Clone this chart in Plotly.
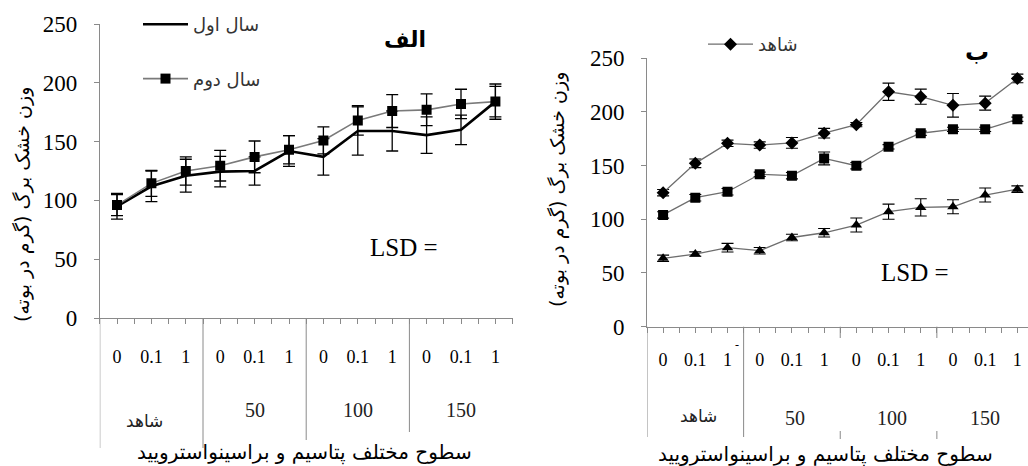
import plotly.graph_objects as go

W, H = 1028, 466

# ---------------- data ----------------
tick_text = ["0", "0.1", "1"] * 4
group_labels = ["شاهد", "50", "100", "150"]

# left panel (الف)
year1_name = "سال اول"
year2_name = "سال دوم"
year1 = [95, 112, 121, 124.5, 125, 142, 137, 159, 159, 155.5, 160, 184]
year1_err = [11, 13, 14, 13, 12, 13, 15.5, 20.5, 17, 15.5, 12.5, 15]
year2 = [96, 114.5, 125, 129.5, 137, 143, 151, 168, 176, 177, 182, 184]
year2_err = [9, 11, 12, 13, 13.5, 12, 11.5, 12.5, 14, 13.5, 12.5, 13]

# right panel (ب)
ctrl_name = "شاهد"
ctrl = [124.7, 152, 170.6, 169, 171, 180, 188, 218.6, 214, 206, 208, 231]
ctrl_err = [3, 4, 3, 3, 5, 4.5, 2, 8, 7, 11, 6.5, 4]
mid = [104, 120, 125.6, 141.8, 140.5, 156.6, 149.8, 167.4, 180, 183.6, 183.6, 193]
mid_err = [3, 3, 3, 2, 3, 6, 3, 2, 2, 2, 2, 2]
low = [63.6, 67.6, 73.5, 70.7, 83, 87.4, 94.6, 107, 111, 111.6, 122.5, 128]
low_err = [3, 2, 4, 3, 3, 4, 6.5, 7, 8, 6.5, 6.5, 3]

y_title = "وزن خشک برگ (گرم در بوته)"
x_title = "سطوح مختلف پتاسیم و براسینواسترویید"
xs = list(range(len(year1)))

# ---------------- helpers ----------------
def py(p):  # pixel y -> paper
    return 1 - p / H

def px(p):  # pixel x -> paper
    return p / W

SERIF = "Liberation Serif"
AR = "DejaVu Sans"
AXC = "#8a8a8a"

fig = go.Figure()

def err(vals, w=1.3, cap=6):
    return dict(type="data", array=vals, visible=True, color="black", thickness=w, width=cap)

# left traces
fig.add_trace(go.Scatter(x=xs, y=year1, name=year1_name, mode="lines",
                         line=dict(color="black", width=2.6), error_y=err(year1_err),
                         xaxis="x", yaxis="y", legend="legend", legendgroup="a"))
fig.add_trace(go.Scatter(x=xs, y=year2, name=year2_name, mode="lines+markers",
                         line=dict(color="#7a7a7a", width=1.6),
                         marker=dict(symbol="square", size=10, color="black"),
                         error_y=err(year2_err),
                         xaxis="x", yaxis="y", legend="legend", legendgroup="b"))

# right traces
fig.add_trace(go.Scatter(x=xs, y=ctrl, name=ctrl_name, mode="lines+markers",
                         line=dict(color="#6e6e6e", width=1.3),
                         marker=dict(symbol="diamond", size=10, color="black"),
                         error_y=err(ctrl_err, 1.1, 6),
                         xaxis="x2", yaxis="y2", legend="legend2"))
fig.add_trace(go.Scatter(x=xs, y=mid, name="50", mode="lines+markers", showlegend=False,
                         line=dict(color="#6e6e6e", width=1.3),
                         marker=dict(symbol="square", size=10, color="black"),
                         error_y=err(mid_err, 1.1, 6),
                         xaxis="x2", yaxis="y2"))
fig.add_trace(go.Scatter(x=xs, y=low, name="100", mode="lines+markers", showlegend=False,
                         line=dict(color="#6e6e6e", width=1.3),
                         marker=dict(symbol="triangle-up", size=10, color="black"),
                         error_y=err(low_err, 1.1, 6),
                         xaxis="x2", yaxis="y2"))

half_ticks = [i / 2 for i in range(-1, 24)]

def xaxis(domain, rng, standoff):
    return dict(domain=domain, range=rng, showgrid=False, zeroline=False, automargin=False,
                showline=True, linecolor=AXC, linewidth=1,
                tickmode="array", tickvals=xs, ticktext=tick_text,
                ticks="outside", ticklen=5, tickcolor=AXC,
                ticklabelstandoff=standoff,
                tickfont=dict(family=SERIF, size=18, color="black"),
                minor=dict(tickmode="array", tickvals=half_ticks, ticks="outside",
                           ticklen=5, tickcolor=AXC))

def yaxis(domain, anchor):
    return dict(domain=domain, range=[0, 250], anchor=anchor, showgrid=False, zeroline=False,
                automargin=False,
                showline=True, linecolor=AXC, linewidth=1,
                tickvals=[0, 50, 100, 150, 200, 250], ticks="outside", ticklen=5,
                tickcolor=AXC, ticklabelstandoff=12,
                tickfont=dict(family=SERIF, size=23, color="black"))

# left axes: y-axis at px 100, 0 at py 318, 250 at py 24
fig.update_layout(
    xaxis=dict(**xaxis([px(99.8), px(512.6)], [-0.5, 11.5], 17), anchor="y"),
    yaxis=yaxis([py(318), py(24)], "x"),
    xaxis2=dict(**xaxis([px(647), 1.0], [-0.5, 11.33], 12), anchor="y2"),
    yaxis2=yaxis([py(326.7), py(58)], "x2"),
)

shapes = []
# left: y-axis extension and group separators
for xv, bottom in [(-0.5, 448), (2.5, 448), (5.5, 440), (8.5, 432)]:
    shapes.append(dict(type="line", xref="x", yref="paper", x0=xv, x1=xv,
                       y0=py(318), y1=py(bottom), line=dict(color=AXC, width=1)))
# right: y-axis extension, first separator long, others short pieces
shapes.append(dict(type="line", xref="x2", yref="paper", x0=-0.5, x1=-0.5,
                   y0=py(326.7), y1=py(437), line=dict(color=AXC, width=1)))
shapes.append(dict(type="line", xref="x2", yref="paper", x0=2.5, x1=2.5,
                   y0=py(326.7), y1=py(437), line=dict(color=AXC, width=1)))
for xv in [5.5, 8.5]:
    shapes.append(dict(type="line", xref="x2", yref="paper", x0=xv, x1=xv,
                       y0=py(326.7), y1=py(338), line=dict(color=AXC, width=1)))
    shapes.append(dict(type="line", xref="x2", yref="paper", x0=xv, x1=xv,
                       y0=py(431), y1=py(439), line=dict(color=AXC, width=1)))
fig.update_layout(shapes=shapes)

ann = []

def add_text(text, x, y, font, xref="paper", textangle=0):
    ann.append(dict(text=text, x=x, y=y, xref=xref, yref="paper", showarrow=False,
                    xanchor="center", yanchor="middle", textangle=textangle, font=font))

# group labels
left_pos = [(0.8, 421), (4.0, 410), (7.0, 410), (10.0, 410)]
right_pos = [(1.1, 416), (4.1, 418), (7.1, 418), (10.0, 418)]
for xr, poss in [("x", left_pos), ("x2", right_pos)]:
    for lab, (xv, yp) in zip(group_labels, poss):
        add_text(lab, xv, py(yp),
                 dict(family=AR if lab == "شاهد" else SERIF,
                      size=17 if lab == "شاهد" else 20, color="#222"), xref=xr)
# x titles
add_text(x_title, px(304), py(452), dict(family=AR, size=20, color="black"))
add_text(x_title, px(825), py(454), dict(family=AR, size=20, color="black"))
# y titles
add_text(y_title, px(22), py(205), dict(family=AR, size=19, color="black"), textangle=-90)
add_text(y_title, px(557), py(190), dict(family=AR, size=19, color="black"), textangle=-90)
# panel letters
add_text("<b>الف</b>", px(405), py(40), dict(family=AR, size=22, color="black"))
add_text("<b>ب</b>", px(977), py(52), dict(family=AR, size=24, color="black"))
# LSD
add_text("LSD =", px(404), py(247), dict(family=SERIF, size=25, color="black"))
add_text("LSD =", px(915), py(272), dict(family=SERIF, size=25, color="black"))
# small dash artifact
add_text("-", px(737), py(345), dict(family=SERIF, size=12, color="black"))
fig.update_layout(annotations=ann)

fig.update_layout(
    width=W, height=H, margin=dict(l=0, r=0, t=0, b=0, autoexpand=False),
    paper_bgcolor="white", plot_bgcolor="white",
    showlegend=True,
    legend=dict(x=px(138), y=py(6), xanchor="left", yanchor="top",
                bgcolor="rgba(0,0,0,0)", tracegroupgap=28,
                font=dict(family=AR, size=18, color="#333"), itemwidth=45),
    legend2=dict(x=px(703), y=py(26), xanchor="left", yanchor="top",
                 bgcolor="rgba(0,0,0,0)",
                 font=dict(family=AR, size=18, color="#333"), itemwidth=45),
)

fig.write_html("out.html", config={"displayModeBar": False},
               post_script="document.body.style.margin='0';")
